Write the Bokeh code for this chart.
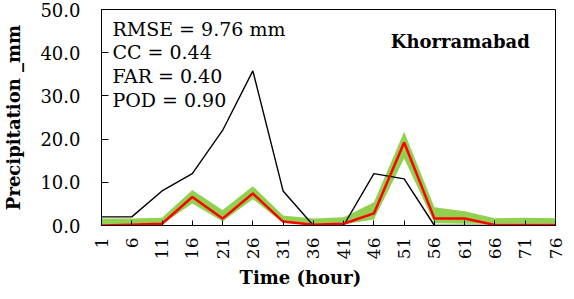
import math
from bokeh.plotting import figure
from bokeh.models import Range1d, FixedTicker, PrintfTickFormatter, Label, Title, ColumnDataSource
from bokeh.embed import file_html
from bokeh.resources import INLINE

hours = [1, 6, 11, 16, 21, 26, 31, 36, 41, 46, 51, 56, 61, 66, 71, 76]
observed = [2.0, 2.0, 8.0, 12.0, 22.0, 35.8, 8.0, 0.0, 0.0, 12.0, 10.8, 0.0, 0.0, 0.0, 0.0, 0.0]
estimated = [0.0, 0.2, 0.4, 6.6, 1.6, 7.4, 0.9, 0.2, 0.4, 2.8, 19.2, 1.6, 1.6, 0.1, 0.1, 0.1]
band_upper = [1.6, 1.6, 1.8, 8.2, 3.6, 9.1, 2.3, 1.6, 1.9, 5.4, 21.7, 4.2, 3.3, 1.7, 1.8, 1.7]
band_lower = [0.3, 0.3, 0.3, 5.1, 0.9, 6.1, 0.6, 0.2, 0.3, 1.4, 15.5, 0.5, 0.4, 0.4, 0.4, 0.4]
y_ticks = [0, 10, 20, 30, 40, 50]
x_tick_labels = [str(h) for h in hours]
stats_lines = ["RMSE = 9.76 mm", "CC = 0.44", "FAR = 0.40", "POD = 0.90"]
station = "Khorramabad"
x_title = "Time (hour)"
y_title = "Precipitation _mm"

FONT = "DejaVu Serif"

src = ColumnDataSource(dict(x=hours, obs=observed, est=estimated, up=band_upper, lo=band_lower))

p = figure(width=565, height=290, output_backend="svg", toolbar_location=None,
           x_range=Range1d(1, 76), y_range=Range1d(0, 50),
           min_border_left=96, min_border_right=10, min_border_top=9, min_border_bottom=63)
p.background_fill_color = "white"
p.border_fill_color = "white"
p.outline_line_color = "black"
p.outline_line_width = 1
p.xgrid.visible = False
p.ygrid.visible = False

p.varea(x="x", y1="lo", y2="up", source=src, fill_color="#92D050")
p.line(x="x", y="obs", source=src, line_color="black", line_width=1.4)
p.line(x="x", y="est", source=src, line_color="#FF0000", line_width=2.5)

# axes
xa = p.xaxis[0]
xa.ticker = FixedTicker(ticks=hours)
xa.major_label_overrides = {h: lab for h, lab in zip(hours, x_tick_labels)}
xa.major_label_orientation = math.pi / 2
xa.major_tick_in = 5
xa.major_tick_out = 0
xa.minor_tick_in = 0
xa.minor_tick_out = 0
xa.major_label_standoff = 12
xa.major_label_text_font = FONT
xa.major_label_text_font_size = "17px"
xa.major_label_text_color = "black"
xa.axis_line_color = "black"
xa.major_tick_line_color = "black"

ya = p.yaxis[0]
ya.ticker = FixedTicker(ticks=y_ticks)
ya.formatter = PrintfTickFormatter(format="%.1f")
ya.major_tick_in = 7
ya.major_tick_out = 0
ya.minor_tick_in = 0
ya.minor_tick_out = 0
ya.major_label_standoff = 21
ya.major_label_text_font = FONT
ya.major_label_text_font_size = "18px"
ya.major_label_text_color = "black"
ya.axis_line_color = "black"
ya.major_tick_line_color = "black"
ya.axis_label = y_title
ya.axis_label_text_font = FONT
ya.axis_label_text_font_size = "18px"
ya.axis_label_text_font_style = "bold"
ya.axis_label_text_color = "black"
ya.axis_label_standoff = 13

xt = Title(text=x_title, align="left", offset=138, text_font=FONT,
           text_font_size="18px", text_font_style="bold", text_color="black", standoff=5)
p.add_layout(xt, "below")

for i, s in enumerate(stats_lines):
    p.add_layout(Label(x=2.8, y=45.6 - i * 5.55, text=s, text_font=FONT,
                       text_font_size="19px", text_color="black",
                       text_baseline="alphabetic", text_align="left"))

p.add_layout(Label(x=71.75, y=42.7, text=station, text_font=FONT, text_font_size="18px",
                   text_font_style="bold", text_color="black",
                   text_baseline="alphabetic", text_align="right"))

open("out.html", "w").write(file_html(p, INLINE))
